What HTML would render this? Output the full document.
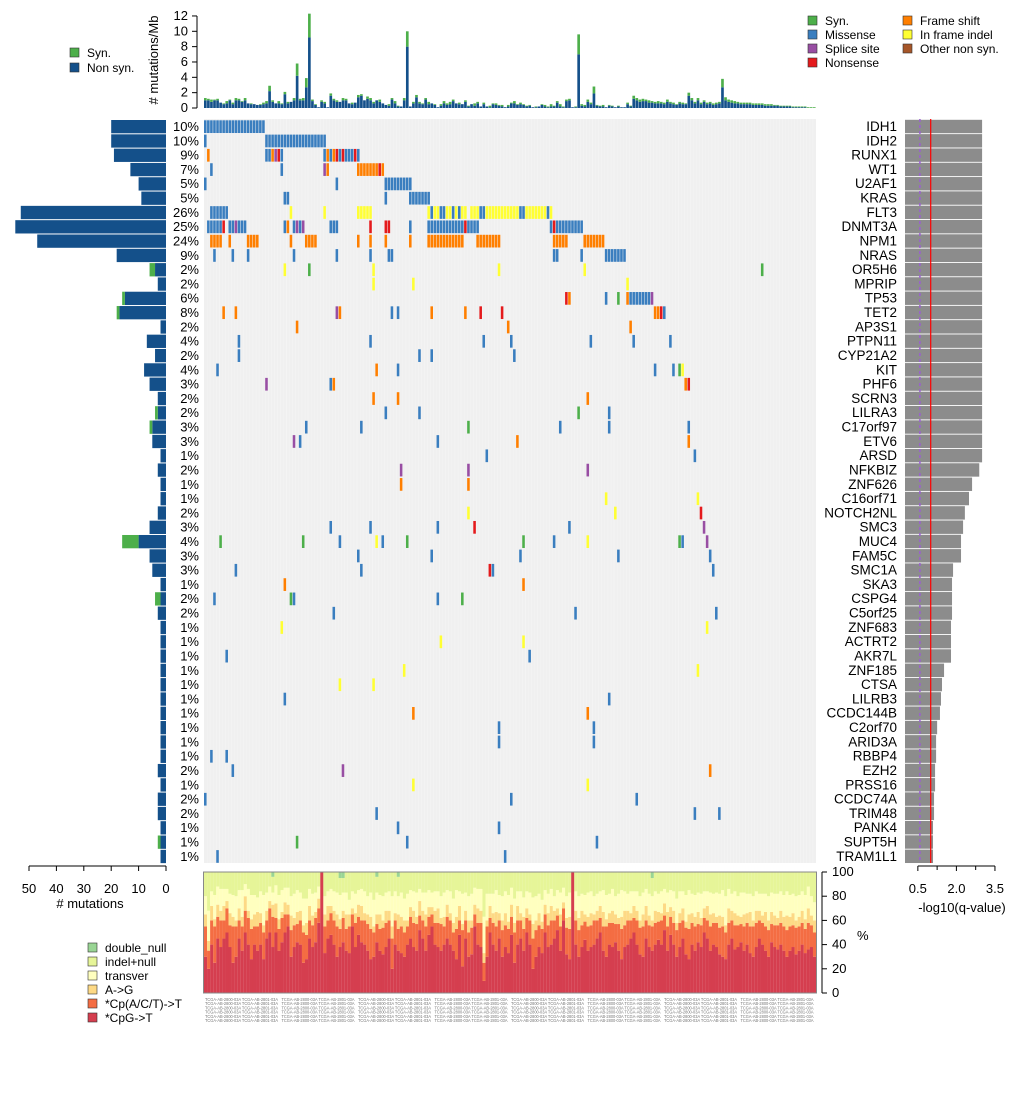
<!DOCTYPE html>
<html><head><meta charset="utf-8"><style>
html,body{margin:0;padding:0;background:#fff;}
svg{display:block;font-family:"Liberation Sans",sans-serif;}
</style></head><body>
<svg id="chart" width="1020" height="1104" viewBox="0 0 1020 1104" xmlns="http://www.w3.org/2000/svg">
<g id="g-top"></g>
<g id="g-grid"></g>
<g id="g-left"></g>
<g id="g-right"></g>
<g id="g-bottom"></g>
<g id="g-legend"></g>
</svg>
<script>
const genes=["IDH1","IDH2","RUNX1","WT1","U2AF1","KRAS","FLT3","DNMT3A","NPM1","NRAS","OR5H6","MPRIP","TP53","TET2","AP3S1","PTPN11","CYP21A2","KIT","PHF6","SCRN3","LILRA3","C17orf97","ETV6","ARSD","NFKBIZ","ZNF626","C16orf71","NOTCH2NL","SMC3","MUC4","FAM5C","SMC1A","SKA3","CSPG4","C5orf25","ZNF683","ACTRT2","AKR7L","ZNF185","CTSA","LILRB3","CCDC144B","C2orf70","ARID3A","RBBP4","EZH2","PRSS16","CCDC74A","TRIM48","PANK4","SUPT5H","TRAM1L1"];
const pctLabels=["10%","10%","9%","7%","5%","5%","26%","25%","24%","9%","2%","2%","6%","8%","2%","4%","2%","4%","3%","2%","2%","3%","3%","1%","2%","1%","1%","2%","3%","4%","3%","3%","1%","2%","2%","1%","1%","1%","1%","1%","1%","1%","1%","1%","1%","2%","1%","2%","2%","1%","1%","1%"];
const geneNonsyn=[20,20,19,13,10,9,53,55,47,18,4,3,15,17,2,7,4,8,6,3,3,5,5,2,3,2,2,3,6,10,6,5,2,2,3,2,2,2,2,2,2,2,2,2,2,3,2,3,3,2,2,2];
const geneSyn=[0,0,0,0,0,0,0,0,0,0,2,0,1,1,0,0,0,0,0,0,1,1,0,0,0,0,0,0,0,6,0,0,0,2,0,0,0,0,0,0,0,0,0,0,0,0,0,0,0,0,1,0];
const qvals=[3.0,3.0,3.0,3.0,3.0,3.0,3.0,3.0,3.0,3.0,3.0,3.0,3.0,3.0,3.0,3.0,3.0,3.0,3.0,3.0,3.0,3.0,3.0,3.0,2.89,2.61,2.49,2.33,2.26,2.18,2.18,1.87,1.83,1.83,1.83,1.79,1.79,1.79,1.52,1.44,1.40,1.36,1.25,1.21,1.21,1.17,1.17,1.13,1.13,1.09,1.09,1.09];
const mutations=["0-19M","0M 20-39M","1F 20M 21M 22F 23P 24N 25M 39M 40F 41M 42F 43N 44M 45N 46M 47M 48M 49N 50M","2M 25M 39P 40F 50-56F 57N 58F","0M 43M 59-67M","26M 27M 59M 67-73M","2-7M 28I 39I 50-54I 73I 74M 75I 76I 77M 78M 79I 80I 81M 82I 83M 84I 85I 87-89I 90M 91M 92-102I 103M 104M 105-111I 112M 113I","1-5M 6N 8M 9M 10P 11-13M 26M 27F 29M 30P 31M 32P 41-43M 54N 59N 60N 67M 73-84M 85N 86-89M 113M 114N 115-123M","2-5F 8F 14-17F 28F 33-36F 50F 54F 59F 67F 73-84F 89-96F 114-118F 124-130F","3M 9M 14M 29M 43M 54M 60M 61M 114M 115M 123M 131-137M","26I 34S 55I 96I 124I 182S","55I 68I 138I","118N 119F 131M 135S 138F 139-145M 146P","6F 10F 43P 44F 61M 63M 74F 85F 90N 97N 147F 148F 149N 150M","30F 99F 139F","11M 54M 91M 100M 126M 140M 152M","11M 70M 74M 101M","4M 56F 63M 147M 153M 155S 156I","20P 41M 42F 157F 158N","55F 63F 125F","59M 70M 122S 132M","33M 51M 86S 116M 132M 158M","29P 31M 76M 102F 158F","92M 160M","64P 86P 125P","64F 86F","131I 161I","86I 134I 162N","41M 54M 76M 88N 119M 163P","5S 32S 44M 56I 58M 66S 104S 114M 125I 155S 156M 164P","50M 74M 103M 135M 165M","10M 51M 93N 94M 166M","26F 104F","3M 28S 29M 76M 84S","42M 121M 167M","25I 164I","77I 104I","7M 106M","65I 161I","44I 55I","26M 132M","68F 125F","96M 127M","96M 127M","2M 7M","9M 45P 165F","68I 125I","0M 100M 141M","56M 160M 168M","63M 96M","30S 66M 128M","4M 98M"];
const sampleNonsyn=[1,1,0.8,1,1,0.7,0.5,0.6,1,0.5,1,1,0.8,1,0.6,0.5,0.5,0.4,0.4,0.5,
0.6,2.2,0.8,0.6,0.6,0.5,1.8,0.6,0.8,1,4.2,1,1,2.7,9.2,0.9,0.4,0.1,0.8,0.6,
0.1,1.6,1,0.8,0.8,1,1,0.6,0.5,0.7,1.4,1.6,1,1.2,1,0.6,1,0.8,0.6,0.4,
0.3,1.1,0.6,0.2,0.2,1,8,0.2,0.6,1.4,0.6,0.5,1.1,0.5,0.6,0.4,0.1,0.3,0.6,0.4,
0.5,0.9,0.6,0.5,0.5,0.8,0.2,0.5,0.3,0.6,0.2,0.5,0.2,0.1,0.5,0.4,0.3,0.2,0.1,0.2,
0.6,0.6,0.4,0.5,0.4,0.2,0.3,0.1,0.1,0.2,0.4,0.2,0.1,0.2,0.2,0.7,0.2,0.1,0.9,1,
0.1,0.1,7,0.3,0.2,0.8,0.5,1.9,0.3,0.2,0.2,0.1,0.3,0.2,0.1,0.2,0.1,0.1,0.5,0.2,
1.2,1,0.8,0.9,0.9,0.7,0.7,0.6,0.6,0.6,0.5,0.8,0.6,0.5,0.4,0.6,0.5,0.5,1.6,1,
0.6,1,0.5,0.8,0.5,0.6,0.4,0.5,0.6,2.7,1,0.8,0.7,0.6,0.6,0.5,0.5,0.5,0.5,0.4,
0.4,0.4,0.4,0.3,0.3,0.3,0.3,0.3,0.2,0.2,0.2,0.2,0.1,0.1,0.1,0.1,0.1,0,0,0];
const sampleSyn=[0.3,0.2,0.3,0.1,0.2,0,0.1,0.3,0.1,0.2,0.3,0.2,0.1,0.3,0,0.1,0,0,0.1,0.2,
0.3,0.7,0.2,0,0.3,0.1,0.3,0.2,0,0.3,1.6,0.2,0.3,1.2,3.1,0.2,0.1,0,0.2,0.2,
0,0.3,0.2,0.2,0,0.3,0.2,0,0.2,0,0.3,0.2,0,0.3,0.3,0.2,0,0.3,0,0,
0.2,0.2,0.3,0.1,0,0.3,2,0,0.2,0.3,0.2,0.1,0.2,0.3,0,0.1,0,0.2,0.3,0.2,
0.3,0.2,0,0.2,0,0.2,0.1,0,0.3,0.2,0,0.2,0,0.2,0.1,0.2,0.1,0.2,0,0.2,
0.1,0.3,0.1,0.2,0.1,0.1,0.1,0,0.1,0,0.1,0.2,0.1,0.3,0.1,0.2,0.3,0.1,0.2,0.2,
0,0.1,2.6,0.2,0.2,0.3,0.2,0.9,0.1,0.1,0.2,0,0.1,0.1,0,0.1,0,0,0.2,0.1,
0.4,0.3,0.3,0.3,0.2,0.3,0.2,0.2,0.3,0.2,0.2,0.3,0.2,0.2,0.1,0.2,0.2,0.1,0.4,0.3,
0.2,0.3,0.2,0.2,0.2,0.2,0.2,0.2,0.2,1.1,0.4,0.3,0.3,0.3,0.2,0.2,0.2,0.2,0.2,0.2,
0.2,0.2,0.2,0.2,0.2,0.2,0.1,0.1,0.1,0.1,0.1,0.1,0.1,0.1,0.1,0.1,0.1,0.1,0.1,0.1];
const specCpG=[30,20,40,25,45,38,45,50,38,25,30,45,35,50,40,28,40,35,40,28,
45,50,38,50,35,42,50,55,30,38,42,40,25,28,45,38,42,58,100,33,
45,48,40,30,38,42,35,33,55,38,48,42,40,35,28,30,42,35,32,38,
45,20,40,35,33,30,40,45,38,35,52,45,35,48,55,40,38,35,40,45,
40,35,28,48,22,45,30,32,55,40,38,10,30,50,40,35,45,30,38,33,
48,25,40,45,35,50,40,20,30,38,33,50,38,40,45,52,35,60,32,28,
100,40,30,38,44,35,38,40,45,50,35,30,40,38,42,35,28,38,40,45,
50,40,32,30,45,38,35,40,44,40,52,35,48,40,30,38,45,32,28,40,
35,42,38,50,45,35,40,38,32,30,28,40,45,36,38,42,35,40,33,30,
38,45,40,35,30,42,38,36,40,35,30,35,38,32,35,40,33,36,38,30];
const specCpA=[25,15,20,30,18,22,15,20,18,30,25,15,20,18,22,25,15,20,18,22,
15,20,25,12,18,20,15,10,22,18,15,20,25,20,15,18,20,12,0,22,
15,18,20,25,15,20,18,22,10,20,15,18,20,22,25,20,15,18,22,20,
15,25,20,18,22,20,15,18,20,22,12,15,20,15,10,18,20,22,15,18,
20,15,25,12,30,15,20,22,10,18,20,15,25,12,18,20,15,22,18,20,
15,25,20,15,18,12,20,25,22,18,20,15,18,20,15,12,20,10,22,25,
0,20,22,18,15,20,18,20,15,12,20,25,18,20,15,22,25,18,20,15,
12,20,22,25,15,18,20,18,15,20,12,20,15,18,22,20,15,22,25,18,
20,15,18,12,15,20,18,20,22,25,22,18,15,20,18,15,20,18,22,25,
20,15,18,20,22,15,18,20,18,20,22,20,18,22,20,18,20,22,18,20];
const specAG=[10,8,12,6,10,8,12,6,10,8,5,10,8,12,6,8,10,12,8,6,
8,6,10,12,8,5,10,8,12,6,10,8,6,10,12,8,5,8,0,10,
12,6,8,10,8,6,12,10,5,8,10,12,6,8,10,5,8,12,6,10,
8,10,6,12,8,10,5,8,10,6,12,8,10,8,6,10,12,5,8,10,
6,8,10,12,5,8,10,6,8,12,10,8,5,10,8,12,6,8,10,6,
10,8,12,6,10,8,5,12,8,10,6,8,10,12,8,6,10,5,8,10,
0,8,10,12,6,8,10,5,8,10,12,6,8,10,8,5,10,12,8,6,
10,8,6,10,12,8,5,10,8,6,10,12,8,10,6,8,10,5,12,8,
8,10,6,8,12,10,8,5,10,8,6,12,8,10,8,6,10,8,12,5,
10,8,6,12,8,10,8,6,10,8,12,8,10,6,8,10,8,12,8,10];
const specTv=[15,25,12,20,15,18,14,10,16,18,20,15,22,10,18,20,16,12,18,25,
15,12,10,15,20,18,12,14,16,20,18,15,22,20,14,18,16,10,0,15,
12,14,16,18,20,15,18,12,14,16,12,14,18,15,20,22,18,16,20,15,
16,25,18,15,20,18,22,14,16,20,10,15,18,14,12,16,14,18,20,12,
18,20,22,12,25,15,20,22,14,16,18,30,22,10,16,18,15,20,18,22,
14,20,12,18,16,14,18,22,20,16,18,12,16,14,12,15,18,12,18,20,
0,16,18,14,16,20,18,15,14,12,18,20,16,18,15,20,22,16,14,18,
12,16,20,18,14,18,20,16,15,18,12,16,14,16,20,18,14,22,20,16,
18,16,20,14,12,18,16,20,18,22,24,16,14,18,16,20,18,16,15,20,
16,14,18,15,20,16,18,20,16,18,20,18,16,20,18,16,20,18,16,15];
const specDN=[0,0,0,0,0,0,0,0,0,0,0,0,0,0,0,0,0,0,0,0,0,0,4,0,0,0,0,0,0,0,0,0,0,0,0,0,0,0,0,0,
0,0,0,0,5,5,0,0,0,0,0,0,0,0,0,0,4,0,0,0,0,0,0,4,0,0,0,0,0,0,0,0,0,0,0,0,0,0,0,0,
0,0,0,0,0,0,0,0,0,0,0,0,0,0,0,0,0,0,0,0,0,0,0,0,0,0,0,0,0,0,0,0,0,0,0,0,0,0,0,0,
0,0,0,0,0,0,0,0,0,0,0,0,0,0,0,0,0,0,0,0,0,0,0,0,0,0,5,0,0,0,0,0,0,0,0,0,0,0,0,0,
0,0,0,0,0,0,0,0,0,0,0,0,0,0,0,0,0,0,0,0,0,0,0,0,0,0,0,0,0,0,0,0,0,0,0,0,0,0,0,0];
const topTicks=[0,2,4,6,8,10,12];
const leftTicks=[50,40,30,20,10,0];
const rightTicks=[0.5,2.0,3.5];
const pctTicks=[0,20,40,60,80,100];

const NS="http://www.w3.org/2000/svg";
const COL={M:"#3a7ebf",S:"#4daf4a",P:"#984ea3",N:"#e41a1c",F:"#ff7f00",I:"#ffff33",O:"#a65628"};
const N=200, X0=204, SW=3.06, ROW0=119.5, RH=14.31;
function el(tag,attrs,parent,text){const e=document.createElementNS(NS,tag);for(const k in attrs)e.setAttribute(k,attrs[k]);if(text!==undefined)e.textContent=text;parent.appendChild(e);return e;}
const sx=i=>X0+i*SW;
const rowY=r=>ROW0+r*RH;

// TOP panel
const gT=document.getElementById('g-top');
const ty=v=>108-v*7.67;
el('line',{x1:197,y1:ty(0),x2:197,y2:ty(12),stroke:'#000'},gT);
topTicks.forEach(t=>{el('line',{x1:192,y1:ty(t),x2:197,y2:ty(t),stroke:'#000'},gT);
 const tx=el('text',{x:188,y:ty(t)+4,'text-anchor':'end','font-size':13},gT,String(t));
 });
const yl=el('text',{x:0,y:0,'font-size':13,'text-anchor':'middle',transform:'translate(158,60) rotate(-90)'},gT,'# mutations/Mb');

for(let i=0;i<N;i++){
 const a=sampleNonsyn[i]||0,b=sampleSyn[i]||0;
 const r1=el('rect',{x:sx(i),y:ty(a),width:SW-0.4,height:a*7.67,fill:'#14508a'},gT);
 
 const r2=el('rect',{x:sx(i),y:ty(a+b),width:SW-0.4,height:b*7.67,fill:'#4daf4a'},gT);
 
}

// GRID
const gG=document.getElementById('g-grid');
const bg=el('rect',{x:X0,y:119,width:N*SW,height:744,fill:'#f0f0f0'},gG);

for(let i=1;i<N;i++)el('line',{x1:sx(i),y1:119,x2:sx(i),y2:863,stroke:'#f7f7f7','stroke-width':0.4},gG);
mutations.forEach((s,r)=>{
 s.split(' ').forEach(tok=>{
  const m=tok.match(/^(\d+)(?:-(\d+))?([A-Z])$/);if(!m)return;
  const a=+m[1],b=m[2]?+m[2]:a,t=m[3];
  for(let i=a;i<=b;i++){
   const c=el('rect',{x:sx(i),y:rowY(r)+0.8,width:SW-0.5,height:RH-1.6,fill:COL[t]},gG);
   
  }
 });
 const p=el('text',{x:199,y:rowY(r)+11.5,'text-anchor':'end','font-size':13},gG,pctLabels[r]);
 
 const g=el('text',{x:897,y:rowY(r)+11.5,'text-anchor':'end','font-size':13.5},gG,genes[r]);
 
});

// LEFT counts
const gL=document.getElementById('g-left');
const lx=v=>166-v*2.74;
genes.forEach((g,r)=>{
 const a=geneNonsyn[r],b=geneSyn[r];
 const r1=el('rect',{x:lx(a),y:rowY(r)+0.5,width:a*2.74,height:RH-1,fill:'#14508a'},gL);
 
 const r2=el('rect',{x:lx(a+b),y:rowY(r)+0.5,width:b*2.74,height:RH-1,fill:'#4daf4a'},gL);
 
});
el('line',{x1:lx(50),y1:866,x2:lx(0),y2:866,stroke:'#000'},gL);
leftTicks.forEach(t=>{el('line',{x1:lx(t),y1:866,x2:lx(t),y2:871,stroke:'#000'},gL);
 const tx=el('text',{x:lx(t),y:893,'text-anchor':'middle','font-size':13},gL,String(t));
 });
const lt=el('text',{x:90,y:908,'text-anchor':'middle','font-size':13},gL,'# mutations');


// RIGHT q-values
const gR=document.getElementById('g-right');
const rx=v=>905+v*25.7;
genes.forEach((g,r)=>{
 const b=el('rect',{x:905,y:rowY(r)+0.3,width:qvals[r]*25.7,height:RH-0.9,fill:'#8c8c8c'},gR);
 
});
el('line',{x1:rx(0.58),y1:119,x2:rx(0.58),y2:863,stroke:'#9a5fd0','stroke-width':1.5,'stroke-dasharray':'3,3'},gR);
el('line',{x1:rx(1),y1:119,x2:rx(1),y2:863,stroke:'#ff0000','stroke-width':1.2},gR);
el('line',{x1:rx(0.5),y1:866,x2:rx(3.5),y2:866,stroke:'#000'},gR);
rightTicks.forEach(t=>{el('line',{x1:rx(t),y1:866,x2:rx(t),y2:871,stroke:'#000'},gR);
 const tx=el('text',{x:rx(t),y:893,'text-anchor':'middle','font-size':13},gR,t.toFixed(1));
 });
el('line',{x1:rx(1.25),y1:866,x2:rx(1.25),y2:870,stroke:'#000'},gR);
el('line',{x1:rx(2.75),y1:866,x2:rx(2.75),y2:870,stroke:'#000'},gR);
const rt=el('text',{x:962,y:912,'text-anchor':'middle','font-size':13},gR,'-log10(q-value)');


// BOTTOM spectrum
const gB=document.getElementById('g-bottom');
const by=v=>993-v*1.21;
const SC=["#d53e4f","#f46d43","#fdd985","#ffffbf","#e6f598","#99d594"];
for(let i=0;i<N;i++){
 let vals=[specCpG[i],specCpA[i],specAG[i],specTv[i]];
 let s=vals.reduce((a,b)=>a+b,0);
 const dn=specDN[i]||0;
 vals.push(Math.max(0,100-s-dn));vals.push(dn);
 let acc=0;
 vals.forEach((v,k)=>{ if(v<=0)return;
  const rr=el('rect',{x:sx(i),y:by(acc+v),width:SW+0.05,height:v*1.21,fill:SC[k]},gB);
  
  acc+=v;});
}
el('rect',{x:203.5,y:872,width:N*SW+1,height:121,fill:'none',stroke:'#888'},gB);
el('line',{x1:822,y1:by(0),x2:822,y2:by(100),stroke:'#000'},gB);
pctTicks.forEach(t=>{el('line',{x1:822,y1:by(t),x2:827,y2:by(t),stroke:'#000'},gB);
 const tx=el('text',{x:832,y:by(t)+4,'font-size':13},gB,String(t));
 });
const pc=el('text',{x:857,y:940,'font-size':13},gB,'%');

// sample labels
for(let k=0;k<8;k++){
 for(let j=0;j<6;j++){
  const tx=el('text',{x:205+k*76.5,y:1001+j*4.2,'font-size':4.5,fill:'#777',textLength:73,lengthAdjust:'spacingAndGlyphs'},gB,'TCGA-AB-2800-03A TCGA-AB-2801-03A');
  
 }
}

// LEGENDS
const gLe=document.getElementById('g-legend');
function leg(x,y,c,t,name){
 const r=el('rect',{x:x,y:y-8,width:9,height:9,fill:c,stroke:'#333','stroke-width':0.6},gLe);
 
 const tt=el('text',{x:x+17,y:y+1,'font-size':12},gLe,t);
 
}
leg(70,56,'#4daf4a','Syn.','legend-syn');
leg(70,71,'#14508a','Non syn.','legend-nonsyn');
leg(808,24,COL.S,'Syn.','legend-syn-type');
leg(808,38,COL.M,'Missense','legend-missense');
leg(808,52,COL.P,'Splice site','legend-splice');
leg(808,66,COL.N,'Nonsense','legend-nonsense');
leg(903,24,COL.F,'Frame shift','legend-frameshift');
leg(903,38,COL.I,'In frame indel','legend-inframe');
leg(903,52,COL.O,'Other non syn.','legend-other');
const sl=[["double_null",SC[5]],["indel+null",SC[4]],["transver",SC[3]],["A->G",SC[2]],["*Cp(A/C/T)->T",SC[1]],["*CpG->T",SC[0]]];
sl.forEach((s,k)=>leg(88,951+k*14,s[1],s[0],'legend-spectrum-'+k));
</script>
</body></html>
